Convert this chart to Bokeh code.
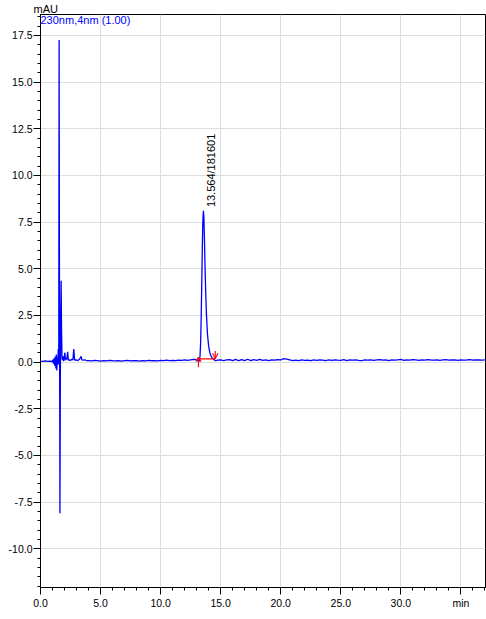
import math
from bokeh.plotting import figure
from bokeh.models import Range1d, FixedTicker, NumeralTickFormatter, Label, Title
from bokeh.embed import file_html
from bokeh.resources import INLINE

# --- chromatogram data (time in min, signal in mAU) ---
# solvent front region, irregular sampling
front_time = [0.0, 0.2, 0.4, 0.6, 0.8, 0.95, 1.02, 1.08, 1.13, 1.18, 1.23, 1.28,
              1.32, 1.36, 1.40, 1.44, 1.48, 1.52, 1.55, 1.58, 1.62, 1.65, 1.69,
              1.72, 1.75, 1.79, 1.83, 1.88, 1.93, 1.98, 2.03, 2.08, 2.14, 2.2,
              2.26, 2.32, 2.4, 2.5, 2.6, 2.7, 2.77, 2.84, 2.95, 3.1, 3.25, 3.38,
              3.45, 3.55, 3.7, 3.85]
front_mau = [0.04, 0.03, 0.06, 0.03, 0.05, 0.02, 0.12, -0.08, 0.20, -0.20, 0.30,
             -0.35, 0.40, -0.45, 0.25, -0.15, 0.70, -0.10, 17.25, 3.0, -8.1, -1.0,
             2.5, 4.35, 1.8, 0.25, 0.10, 0.30, 0.05, 0.25, 0.50, 0.10, 0.20, 0.15,
             0.55, 0.10, 0.12, 0.08, 0.15, 0.12, 0.70, 0.10, 0.12, 0.08, 0.15,
             0.30, 0.12, 0.10, 0.12, 0.07]

# baseline before the main peak, 0.25 min steps from 4.0 min
pre_start = 4.0
pre_mau = [0.08, 0.06, 0.09, 0.07, 0.05, 0.08, 0.06, 0.09, 0.07, 0.06, 0.08, 0.05,
           0.07, 0.09, 0.06, 0.08, 0.07, 0.05, 0.08, 0.06, 0.09, 0.07, 0.08, 0.06,
           0.09, 0.07, 0.10, 0.08, 0.09, 0.07, 0.10, 0.09, 0.11, 0.09, 0.12, 0.14]

# main peak
peak_rt = 13.564
peak_area = 181601
peak_time = [13.0, 13.1, 13.17, 13.22, 13.28, 13.33, 13.38, 13.43, 13.48, 13.52,
             peak_rt, 13.6, 13.65, 13.7, 13.76, 13.82, 13.9, 14.0, 14.1, 14.2,
             14.3, 14.4, 14.5, 14.6]
peak_mau = [0.12, 0.08, 0.02, 0.06, 0.3, 1.0, 2.4, 4.4, 6.4, 7.6, 8.1, 7.8, 6.6,
            5.1, 3.6, 2.5, 1.5, 0.85, 0.5, 0.32, 0.22, 0.16, 0.10, 0.07]

# baseline after the main peak, 0.25 min steps from 14.75 min
post_start = 14.75
post_mau = [0.10, 0.12, 0.08, 0.11, 0.13, 0.08, 0.14, 0.07, 0.13, 0.08,
            0.15, 0.08, 0.13, 0.09, 0.14, 0.09, 0.11, 0.08, 0.12, 0.10,
            0.13, 0.11, 0.18, 0.15, 0.12, 0.08, 0.10, 0.08, 0.11, 0.09,
            0.10, 0.08, 0.12, 0.09, 0.11, 0.10, 0.08, 0.11, 0.09, 0.12,
            0.10, 0.09, 0.13, 0.08, 0.11, 0.10, 0.12, 0.09, 0.08, 0.11,
            0.10, 0.12, 0.09, 0.11, 0.13, 0.10, 0.12, 0.08, 0.11, 0.10,
            0.12, 0.14, 0.09, 0.12, 0.10, 0.13, 0.11, 0.09, 0.12, 0.10,
            0.13, 0.11, 0.10, 0.12, 0.09, 0.11, 0.13, 0.10, 0.12, 0.11,
            0.09, 0.12, 0.10, 0.11, 0.13, 0.10, 0.12, 0.11, 0.10, 0.12]

# integration baseline of the main peak
int_start, int_end, int_level = 13.15, 14.55, 0.17

x_ticks = [0, 5, 10, 15, 20, 25, 30, 35]
y_ticks = [-10.0, -7.5, -5.0, -2.5, 0.0, 2.5, 5.0, 7.5, 10.0, 12.5, 15.0, 17.5]

pre_time = [pre_start + 0.25 * i for i in range(len(pre_mau))]
post_time = [post_start + 0.25 * i for i in range(len(post_mau))]
t = front_time + pre_time + peak_time + post_time
s = front_mau + pre_mau + peak_mau + post_mau

FONT = "Liberation Sans"

p = figure(width=486, height=619, output_backend="svg", toolbar_location=None,
           x_range=Range1d(0, 37.05), y_range=Range1d(-12.08, 18.62),
           min_border_left=40, min_border_right=1, min_border_top=12,
           min_border_bottom=32)
p.background_fill_color = "white"
p.border_fill_color = "white"
p.outline_line_color = "black"
p.outline_line_width = 1
p.outline_line_alpha = 1.0

# unit label above the signal axis
p.add_layout(Title(text="mAU", align="left", offset=-7, standoff=0,
                   text_font=FONT, text_font_size="11px",
                   text_font_style="normal", text_color="black"), "above")

# axes
for ax in (p.xaxis[0], p.yaxis[0]):
    ax.axis_line_color = "black"
    ax.major_tick_line_color = "black"
    ax.minor_tick_line_color = "black"
    ax.major_tick_in = 0
    ax.minor_tick_in = 0
    ax.major_tick_out = 7
    ax.minor_tick_out = 3
    ax.major_label_text_font = FONT
    ax.major_label_text_font_size = "10.5px"
    ax.major_label_text_color = "black"
    ax.formatter = NumeralTickFormatter(format="0.0")

p.xaxis.ticker = FixedTicker(ticks=x_ticks, minor_ticks=list(range(0, 38)))
p.yaxis.ticker = FixedTicker(ticks=y_ticks,
                             minor_ticks=[-12.0 + 0.5 * i for i in range(62)])
p.xaxis.major_label_overrides = {35: "min"}
p.xaxis.major_label_standoff = 2
p.yaxis.major_label_standoff = 1

p.xgrid.grid_line_color = "#dedede"
p.ygrid.grid_line_color = "#dedede"
p.xgrid.grid_line_width = 1
p.ygrid.grid_line_width = 1

# signal trace
p.line(t, s, line_color="#0000ff", line_width=1.3)

# integration baseline and start/end markers
red = "#ff0000"
p.segment(x0=[int_start], y0=[int_level], x1=[int_end], y1=[int_level],
          line_color=red, line_width=1.2)
# start marker (arrow pointing up)
p.segment(x0=[int_start, int_start - 0.22, int_start + 0.22],
          y0=[-0.28, 0.02, 0.02],
          x1=[int_start, int_start, int_start],
          y1=[int_level + 0.08, int_level + 0.08, int_level + 0.08],
          line_color=red, line_width=1.1)
# end marker (arrow pointing down)
p.segment(x0=[int_end, int_end - 0.22, int_end + 0.22],
          y0=[int_level + 0.42, int_level + 0.3, int_level + 0.3],
          x1=[int_end, int_end, int_end],
          y1=[int_level, int_level, int_level],
          line_color=red, line_width=1.1)

# peak annotation
p.add_layout(Label(x=peak_rt + 0.6, y=8.3, text=f"{peak_rt:.3f}/{peak_area}",
                   angle=math.pi / 2, text_align="left", text_baseline="middle",
                   text_font=FONT, text_font_size="11px", text_color="black"))

# channel label
p.add_layout(Label(x=0.0, y=18.35, text="230nm,4nm (1.00)", text_align="left",
                   text_baseline="middle", text_font=FONT, text_font_size="11px",
                   text_color="#0000ff"))

open("out.html", "w").write(file_html(p, INLINE))
